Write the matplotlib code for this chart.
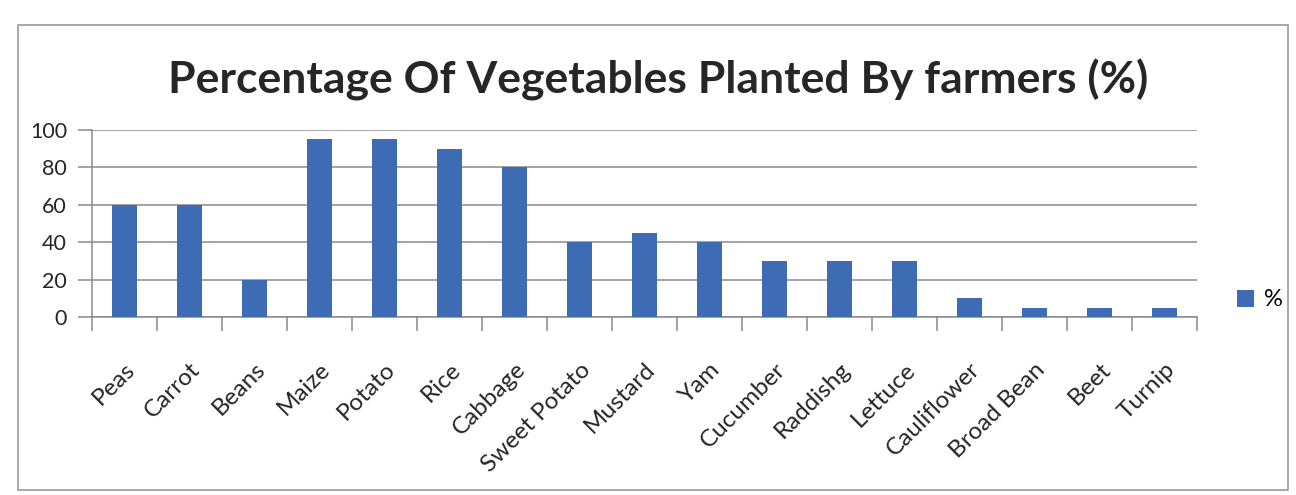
import matplotlib
matplotlib.use("Agg")
import matplotlib.pyplot as plt
from matplotlib.patches import Rectangle, Patch

categories = ["Peas", "Carrot", "Beans", "Maize", "Potato", "Rice", "Cabbage",
              "Sweet Potato", "Mustard", "Yam", "Cucumber", "Raddishg", "Lettuce",
              "Cauliflower", "Broad Bean", "Beet", "Turnip"]
values = [60, 60, 20, 95, 95, 90, 80, 40, 45, 40, 30, 30, 30, 10, 5, 5, 5]
yticks = [0, 20, 40, 60, 80, 100]
title = "Percentage Of Vegetables Planted By farmers (%)"
series_name = "%"

bar_color = "#3D6CB5"
grid_color = "#8a8a8a"
text_color = "#262626"
font = ["Lato", "DejaVu Sans"]

fig = plt.figure(figsize=(12.96, 4.95), dpi=100)
fig.patch.set_facecolor("white")

# chart-area border
fig.add_artist(Rectangle((18 / 1296, 1 - 490 / 495), 1270 / 1296, 465 / 495,
                         transform=fig.transFigure, fill=False,
                         edgecolor="#9a9a9a", linewidth=1.2))

ax = fig.add_axes([92 / 1296, 1 - 317 / 495, 1105 / 1296, 187 / 495])
x = range(len(categories))
ax.bar(x, values, width=0.37, color=bar_color, zorder=3, label=series_name)

ax.set_xlim(-0.5, len(categories) - 0.5)
ax.set_ylim(0, 100)
ax.set_yticks(yticks)
ax.set_yticklabels([str(v) for v in yticks], fontsize=15.5, family=font, color=text_color)
ax.yaxis.grid(True, color=grid_color, linewidth=1.1, zorder=0)
ax.set_axisbelow(True)

ax.set_xticks([i for i in x])
ax.set_xticklabels(categories, rotation=45, ha="right", va="top", rotation_mode="anchor",
                   fontsize=17.5, family=font, color=text_color)
ax.tick_params(axis="x", length=0, pad=30)
ax.set_xticks([i - 0.5 for i in range(len(categories) + 1)], minor=True)
ax.tick_params(axis="x", which="minor", length=10, color=grid_color, width=1.1)
ax.tick_params(axis="y", length=10, color=grid_color, width=1.1, pad=8)

for s in ["top", "right"]:
    ax.spines[s].set_visible(False)
for s in ["left", "bottom"]:
    ax.spines[s].set_color(grid_color)
    ax.spines[s].set_linewidth(1.1)

fig.text(0.508, 1 - 80 / 495, title, ha="center", va="center",
         fontsize=32, fontweight="bold", family=font, color=text_color)

leg = fig.legend(handles=[Patch(facecolor=bar_color, label=series_name)],
                 loc="center left", bbox_to_anchor=(1216 / 1296, 1 - 300 / 495),
                 frameon=False, prop={"family": font, "size": 17},
                 handlelength=0.7, handleheight=0.7, handletextpad=0.45)

fig.savefig("out.png", dpi=100, facecolor="white")
